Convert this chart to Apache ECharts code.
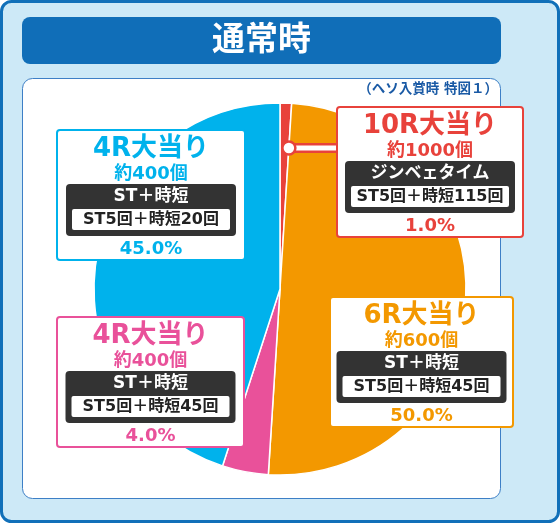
<!DOCTYPE html>
<html>
<head>
<meta charset="utf-8">
<script src="https://cdn.jsdelivr.net/npm/echarts@6/dist/echarts.min.js"></script>
<style>
  html, body { margin: 0; padding: 0; background: #fff; }
  #chart { width: 560px; height: 523px; }
</style>
</head>
<body>
<div id="chart"></div>
<script>
// slices clockwise from 12 o'clock
const titles = ['10R大当り', '6R大当り', '4R大当り', '4R大当り']
const counts = ['約1000個', '約600個', '約400個', '約400個']
const modes = ['ジンベェタイム', 'ST＋時短', 'ST＋時短', 'ST＋時短']
const details = ['ST5回＋時短115回', 'ST5回＋時短45回', 'ST5回＋時短45回', 'ST5回＋時短20回']
const shares = [1.0, 50.0, 4.0, 45.0]
const colors = ['#e8423b', '#f39800', '#e9519a', '#00b2ec']

const mainTitle = '通常時'
const note = '（ヘソ入賞時 特図１）'

// layout
const FONT = '"DejaVu Sans", "Noto Sans CJK JP", sans-serif'
const pieCenter = [280, 289]
const pieRadius = 186
const boxPos = [
  { x: 337, y: 107, w: 186 },
  { x: 330, y: 297, w: 183 },
  { x: 57, y: 317, w: 187 },
  { x: 57, y: 130, w: 188 }
]

function txt(x, y, text, size, fill, align) {
  return {
    type: 'text', z: 20,
    style: {
      x: x, y: y, text: text, fill: fill,
      fontSize: size, fontWeight: 'bold', fontFamily: FONT,
      align: align || 'center', verticalAlign: 'middle'
    }
  }
}

function labelBox(i) {
  const p = boxPos[i]
  const cx = p.x + p.w / 2
  const c = colors[i]
  return [
    { type: 'rect', z: 10, shape: { x: p.x, y: p.y, width: p.w, height: 130, r: 3 },
      style: { fill: '#fff', stroke: c, lineWidth: 2 } },
    txt(cx, p.y + 19, titles[i], 26, c),
    txt(cx, p.y + 44, counts[i], 18, c),
    { type: 'rect', z: 11, shape: { x: cx - 85, y: p.y + 54, width: 170, height: 52, r: 4 },
      style: { fill: '#333333' } },
    txt(cx, p.y + 67, modes[i], 17, '#fff'),
    { type: 'rect', z: 12, shape: { x: cx - 79, y: p.y + 79, width: 158, height: 21, r: 2 },
      style: { fill: '#fff' } },
    txt(cx, p.y + 90, details[i], 16, '#222'),
    txt(cx, p.y + 119, shares[i].toFixed(1) + '%', 18, c)
  ]
}

// leader from the 10R slice to its box
const total = shares.reduce((a, b) => a + b, 0)
const edgeAng = (90 - shares[0] / total * 360) * Math.PI / 180
const dotX = pieCenter[0] + pieRadius * 0.76 * Math.cos(edgeAng)
const dotY = pieCenter[1] - pieRadius * 0.76 * Math.sin(edgeAng)

let graphics = [
  { type: 'rect', z: -10, shape: { x: 1.5, y: 1.5, width: 557, height: 520, r: 10 },
    style: { fill: '#cde9f7', stroke: '#1170b9', lineWidth: 3 } },
  { type: 'rect', z: -9, shape: { x: 22, y: 17, width: 479, height: 47, r: 8 },
    style: { fill: '#106eb8' } },
  txt(261.5, 41, mainTitle, 33, '#fff'),
  { type: 'rect', z: -9, shape: { x: 22.5, y: 78.5, width: 478, height: 420, r: 10 },
    style: { fill: '#fff', stroke: '#3d7fc6', lineWidth: 1 } },
  txt(498, 89, note, 13.5, '#1a5aa5', 'right'),
  { type: 'line', z: 13, shape: { x1: dotX, y1: dotY, x2: boxPos[0].x, y2: dotY },
    style: { stroke: colors[0], lineWidth: 10 } },
  { type: 'line', z: 14, shape: { x1: dotX, y1: dotY, x2: boxPos[0].x - 1, y2: dotY },
    style: { stroke: '#fff', lineWidth: 5 } },
  { type: 'circle', z: 15, shape: { cx: dotX, cy: dotY, r: 6.5 },
    style: { fill: '#fff', stroke: colors[0], lineWidth: 2.5 } }
]
for (let i = 0; i < titles.length; i++) {
  graphics = graphics.concat(labelBox(i))
}

const chart = echarts.init(document.getElementById('chart'), null, { renderer: 'canvas' })
chart.setOption({
  animation: false,
  graphic: graphics,
  series: [{
    type: 'pie',
    z: 2,
    silent: true,
    center: pieCenter,
    radius: pieRadius,
    startAngle: 90,
    clockwise: true,
    label: { show: false },
    labelLine: { show: false },
    itemStyle: { borderColor: '#fff', borderWidth: 1.5 },
    data: shares.map((v, i) => ({
      name: titles[i] + ' ' + details[i],
      value: v,
      itemStyle: { color: colors[i] }
    }))
  }]
})
</script>
</body>
</html>
